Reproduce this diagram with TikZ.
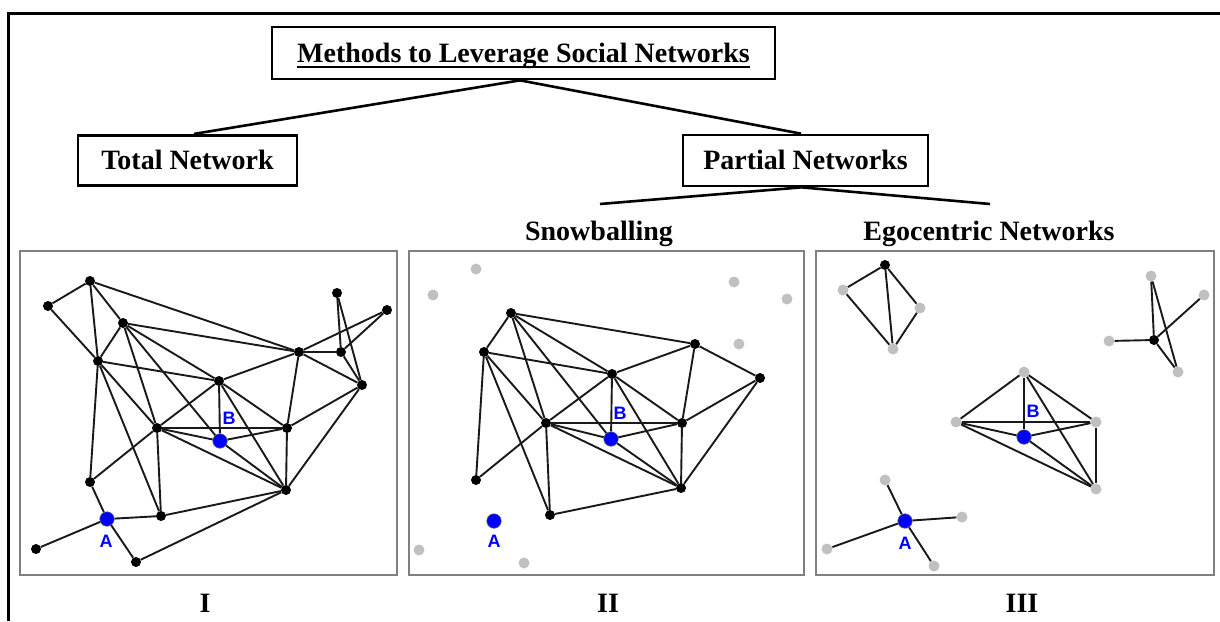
\documentclass[tikz,border=0pt]{standalone}
\usepackage{fontspec}
\setmainfont{Liberation Serif}
\newfontfamily\labfont{Liberation Sans}
\definecolor{dotgray}{HTML}{C0C0C0}
\definecolor{framegray}{HTML}{808080}
\newcommand\myul[1]{\setbox0\hbox{#1}\rlap{\rule[-5.5pt]{\wd0}{2pt}}\box0}
\begin{document}
\begin{tikzpicture}[x=1pt,y=-1pt,
  bk/.style={circle,fill=black,inner sep=0pt,minimum size=10pt},
  gr/.style={circle,fill=dotgray,inner sep=0pt,minimum size=11pt},
  bl/.style={circle,fill=blue,draw=black!60,line width=0.6pt,inner sep=0pt,minimum size=14.5pt},
  lab/.style={text=blue,font=\labfont\bfseries\fontsize{18}{18}\selectfont,inner sep=0pt},
  ed/.style={line width=1.9pt,black!90},
  panel/.style={draw=framegray,line width=2pt},
  hbox/.style={draw=black,line width=2.7pt,inner sep=0pt,text height=18.5pt,text depth=0pt,font=\bfseries\fontsize{28}{30}\selectfont},
  ttl/.style={inner sep=0pt,text height=18.5pt,text depth=0pt,font=\bfseries\fontsize{28}{30}\selectfont},
  conn/.style={line width=2.6pt,black}]
\useasboundingbox (0,0) rectangle (1220,621);
% outer frame
\draw[line width=3pt] (8,621) -- (8,13.5) -- (1220,13.5);
% hierarchy
\node[hbox,minimum width=503pt,minimum height=52pt] (title) at (523.5,53) {\myul{Methods to Leverage Social Networks}};
\node[hbox,minimum width=219pt,minimum height=50.5pt] (tot) at (187.5,160.5) {Total Network};
\node[hbox,minimum width=245pt,minimum height=51pt] (par) at (805.5,160.5) {Partial Networks};
\coordinate (s1) at (600,204);
\coordinate (s2) at (990,204);
\draw[conn] ([xshift=-3.5pt]title.south) -- ([xshift=6.5pt]tot.north);
\draw[conn] ([xshift=-3.5pt]title.south) -- ([xshift=-4.5pt]par.north);
\draw[conn] ([xshift=-4pt]par.south) -- (s1);
\draw[conn] ([xshift=-4pt]par.south) -- (s2);
\node[ttl] (snow) at (599,231) {Snowballing};
\node[ttl] (ego) at (989,231) {Egocentric Networks};
% panels
\node[panel,minimum width=377pt,minimum height=324pt,inner sep=0pt] (p1) at (208.5,413) {};
\node[panel,minimum width=395pt,minimum height=324pt,inner sep=0pt] (p2) at (606.5,413) {};
\node[panel,minimum width=398pt,minimum height=324pt,inner sep=0pt] (p3) at (1015,413) {};
\node[ttl] (r1) at (205,603) {I};
\node[ttl] (r2) at (608,603) {II};
\node[ttl] (r3) at (1022,603) {III};
% ---------- Panel I ----------
\node[bk] (a1) at (90,281) {};
\node[bk] (a2) at (48,306) {};
\node[bk] (a3) at (123,323) {};
\node[bk] (a4) at (98,361) {};
\node[bk] (a5) at (157,428) {};
\node[bk] (a6) at (90,482) {};
\node[bl] (aA) at (107,519) {};
\node[bk] (a7) at (161,516) {};
\node[bk] (a8) at (36,549) {};
\node[bk] (a9) at (136,562) {};
\node[bk] (a10) at (219,381) {};
\node[bl] (aB) at (220,441) {};
\node[bk] (a11) at (287,428) {};
\node[bk] (a12) at (299,352) {};
\node[bk] (a13) at (286,490) {};
\node[bk] (a14) at (337,293) {};
\node[bk] (a15) at (387,310) {};
\node[bk] (a16) at (341,352) {};
\node[bk] (a17) at (362,385) {};
\foreach \u/\v in {a1/a2,a1/a3,a1/a4,a1/a12,a2/a4,a3/a4,a3/a12,a3/a10,a3/aB,a3/a5,
  a4/a10,a4/a5,a4/a7,a4/a6,a5/a6,a5/a7,a5/a10,a5/a11,a5/aB,a5/a13,
  a10/a12,a10/a11,a10/a13,a10/aB,aB/a11,aB/a13,a11/a12,a11/a13,a11/a17,
  a12/a16,a12/a15,a12/a17,a14/a16,a14/a17,a15/a16,a16/a17,a17/a13,a13/a7,a13/a9,
  a6/aA,aA/a7,aA/a8,aA/a9}
  \draw[ed] (\u) -- (\v);
\node[lab] (aAl) at (106,541) {A};
\node[lab] (aBl) at (229,418) {B};
% ---------- Panel II ----------
\node[bk] (b3) at (511,313) {};
\node[bk] (b4) at (484,352) {};
\node[bk] (b5) at (546,423) {};
\node[bk] (b6) at (476,480) {};
\node[bl] (bA) at (494,521) {};
\node[bk] (b7) at (550,515) {};
\node[bk] (b10) at (612,374) {};
\node[bl] (bB) at (611,439) {};
\node[bk] (b11) at (682,423) {};
\node[bk] (b12) at (695,344) {};
\node[bk] (b13) at (681,488) {};
\node[bk] (b17) at (760,378) {};
\node[gr] (bg1) at (476,269) {};
\node[gr] (bg2) at (433,295) {};
\node[gr] (bg3) at (419,550) {};
\node[gr] (bg4) at (524,563) {};
\node[gr] (bg5) at (734,282) {};
\node[gr] (bg6) at (787,299) {};
\node[gr] (bg7) at (739,344) {};
\foreach \u/\v in {b3/b4,b3/b12,b3/b10,b3/bB,b3/b5,b4/b10,b4/b5,b4/b7,b4/b6,
  b5/b6,b5/b7,b5/b10,b5/b11,b5/bB,b5/b13,b10/b12,b10/b11,b10/b13,b10/bB,
  bB/b11,bB/b13,b11/b12,b11/b13,b11/b17,b12/b17,b13/b17,b13/b7}
  \draw[ed] (\u) -- (\v);
\node[lab] (bAl) at (494,541) {A};
\node[lab] (bBl) at (620,413) {B};
% ---------- Panel III ----------
\node[bk] (c1) at (885,265) {};
\node[gr] (c2) at (843,290) {};
\node[gr] (c3) at (920,308) {};
\node[gr] (c4) at (893,349) {};
\foreach \u/\v in {c1/c2,c1/c3,c1/c4,c2/c4,c3/c4}
  \draw[ed] (\u) -- (\v);
\node[gr] (cL) at (956,422) {};
\node[gr] (cT) at (1024,372) {};
\node[bl] (cB) at (1024,437) {};
\node[gr] (cR) at (1096,422) {};
\node[gr] (cD) at (1096,489) {};
\foreach \u/\v in {cL/cT,cL/cR,cL/cB,cL/cD,cT/cB,cT/cR,cT/cD,cB/cR,cB/cD,cR/cD}
  \draw[ed] (\u) -- (\v);
\node[bk] (cK) at (1154,340) {};
\node[gr] (u1) at (1151,276) {};
\node[gr] (u2) at (1204,295) {};
\node[gr] (u3) at (1109,341) {};
\node[gr] (u4) at (1178,372) {};
\foreach \u/\v in {cK/u1,cK/u2,cK/u3,cK/u4,u1/u4}
  \draw[ed] (\u) -- (\v);
\node[bl] (cA) at (905,521) {};
\node[gr] (v1) at (885,480) {};
\node[gr] (v2) at (962,517) {};
\node[gr] (v3) at (827,549) {};
\node[gr] (v4) at (934,566) {};
\foreach \u/\v in {cA/v1,cA/v2,cA/v3,cA/v4}
  \draw[ed] (\u) -- (\v);
\node[lab] (cAl) at (905,543) {A};
\node[lab] (cBl) at (1033,411) {B};
\end{tikzpicture}
\end{document}
